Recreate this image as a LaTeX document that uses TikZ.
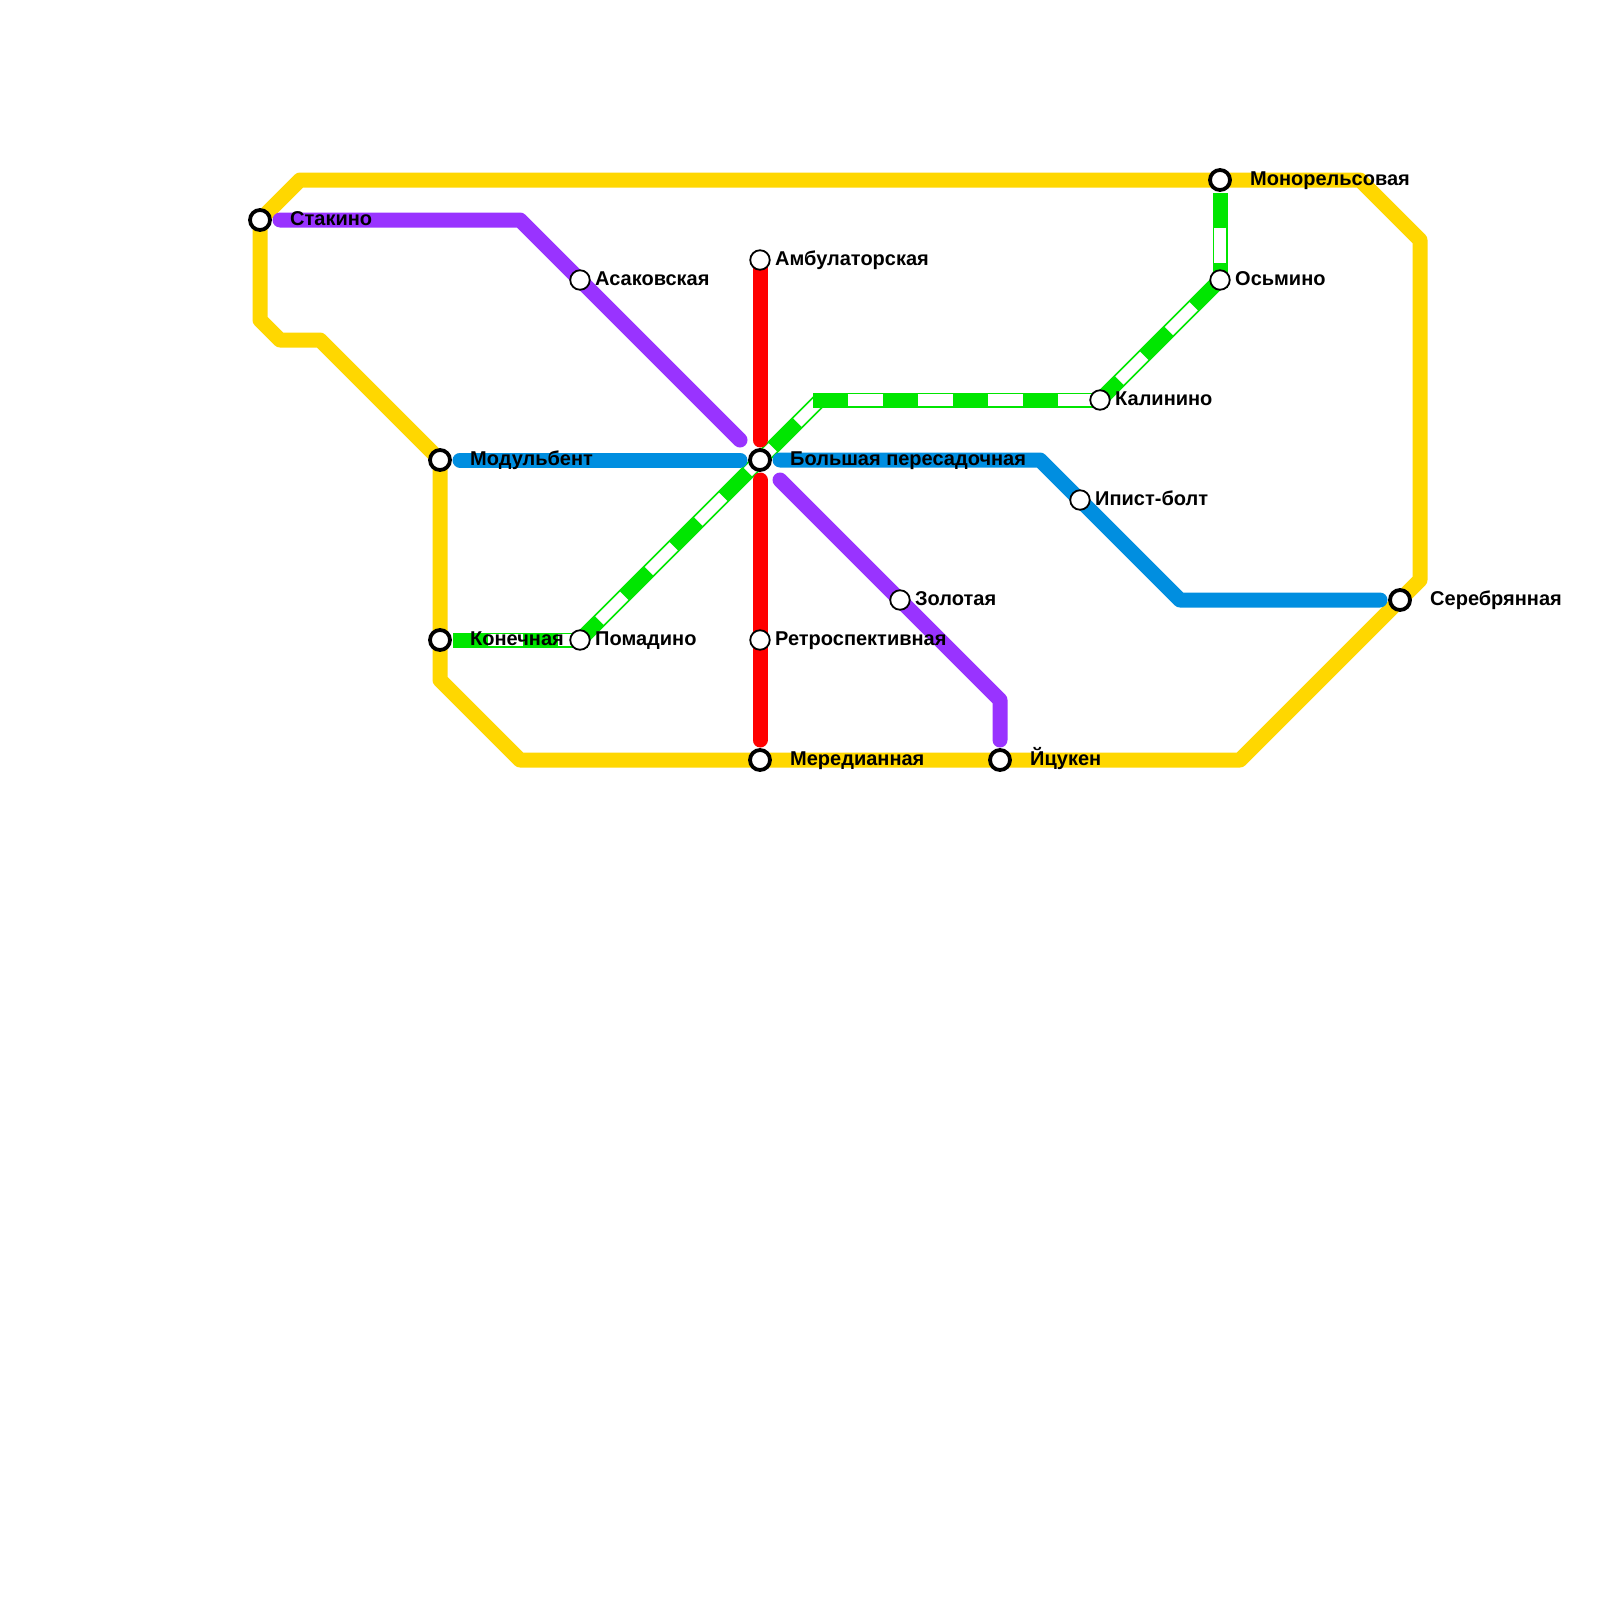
\documentclass[tikz,border=0pt]{standalone}
\usepackage{fontspec}
\setmainfont{Liberation Sans}
\begin{document}
\begin{tikzpicture}[x=1pt,y=-1pt,
  route/.style={line width=15pt,line join=round,line cap=round},
  yellowline/.style={route,draw=lineyellow},
  purpleline/.style={route,draw=linepurple},
  blueline/.style={route,draw=lineblue},
  redline/.style={route,draw=linered},
  greenbase/.style={line width=15pt,line cap=rect,draw=linegreen},
  greendiag/.style={line width=15pt,line cap=butt,draw=linegreen},
  greengap/.style={line width=11.5pt,line cap=butt,draw=white,dash pattern=on 35pt off 35pt,dash phase=42.5pt},
  stn/.style={circle,draw=black,fill=white,line width=1.8pt,minimum size=19.5pt,inner sep=0pt},
  xstn/.style={circle,draw=black,fill=white,line width=3.8pt,minimum size=20pt,inner sep=0pt},
  lab/.style={anchor=west,inner sep=0pt,font=\fontsize{20pt}{22pt}\selectfont\bfseries,text=black,text height=14.5pt,text depth=4pt}]
\definecolor{lineyellow}{HTML}{FFD700}
\definecolor{linepurple}{HTML}{9933FF}
\definecolor{lineblue}{HTML}{008EE0}
\definecolor{linered}{HTML}{FF0000}
\definecolor{linegreen}{HTML}{00E600}
\useasboundingbox (0,0) rectangle (1600,1600);
\fill[white] (0,0) rectangle (1600,1600);

% bends and free ends
\coordinate (y1) at (300,180);
\coordinate (y2) at (1360,180);
\coordinate (y3) at (1420,240);
\coordinate (y4) at (1420,580);
\coordinate (y5) at (1240,760);
\coordinate (y6) at (520,760);
\coordinate (y7) at (440,680);
\coordinate (y8) at (320,340);
\coordinate (y9) at (280,340);
\coordinate (y10) at (260,320);
\coordinate (p1) at (280,220);
\coordinate (p2) at (520,220);
\coordinate (p3) at (740,440);
\coordinate (p4) at (780,480);
\coordinate (p5) at (1000,700);
\coordinate (p6) at (1000,740);
\coordinate (b1) at (460,460);
\coordinate (b2) at (740,460);
\coordinate (b3) at (780,460);
\coordinate (b4) at (1040,460);
\coordinate (b5) at (1180,600);
\coordinate (b6) at (1380,600);
\coordinate (r1) at (760,440);
\coordinate (r2) at (760,480);
\coordinate (r3) at (760,740);
\coordinate (g1) at (460,640);
\coordinate (g2) at (820,400);
\coordinate (g3) at (1220,200);

% station positions
\path (260,220) coordinate (cStakino)
      (440,460) coordinate (cModul)
      (440,640) coordinate (cKon)
      (760,460) coordinate (cBig)
      (760,760) coordinate (cMer)
      (1000,760) coordinate (cYts)
      (1220,180) coordinate (cMono)
      (1400,600) coordinate (cSer)
      (580,280) coordinate (cAsak)
      (760,260) coordinate (cAmb)
      (580,640) coordinate (cPom)
      (760,640) coordinate (cRet)
      (900,600) coordinate (cZol)
      (1080,500) coordinate (cIpi)
      (1100,400) coordinate (cKal)
      (1220,280) coordinate (cOsm);

% yellow
\draw[yellowline] (cStakino) -- (y1) -- (cMono) -- (y2) -- (y3) -- (y4) -- (cSer) -- (y5) -- (cYts) -- (cMer) -- (y6) -- (y7) -- (cKon) -- (cModul) -- (y8) -- (y9) -- (y10) -- cycle;

% green
\draw[greenbase] (g1) -- (cPom);
\draw[greengap] (g1) -- (cPom);
\draw[greendiag] (cPom) -- (g2);
\draw[greengap] (cPom) -- (g2);
\draw[greenbase] (g2) -- (cKal);
\draw[greengap] (g2) -- (cKal);
\draw[greendiag] (cKal) -- (cOsm);
\draw[greengap] (cKal) -- (cOsm);
\draw[greenbase] (g3) -- (cOsm);
\draw[greengap] (g3) -- (cOsm);

% purple, blue, red
\draw[purpleline] (p1) -- (p2) -- (cAsak) -- (p3);
\draw[purpleline] (p4) -- (cZol) -- (p5) -- (p6);
\draw[blueline] (b1) -- (b2);
\draw[blueline] (b3) -- (b4) -- (cIpi) -- (b5) -- (b6);
\draw[redline] (cAmb) -- (r1);
\draw[redline] (r2) -- (cRet) -- (r3);

% station markers
\node[xstn] (Stakino) at (cStakino) {};
\node[xstn] (Modul) at (cModul) {};
\node[xstn] (Kon) at (cKon) {};
\node[xstn] (Big) at (cBig) {};
\node[xstn] (Mer) at (cMer) {};
\node[xstn] (Yts) at (cYts) {};
\node[xstn] (Mono) at (cMono) {};
\node[xstn] (Ser) at (cSer) {};
\node[stn] (Asak) at (cAsak) {};
\node[stn] (Amb) at (cAmb) {};
\node[stn] (Pom) at (cPom) {};
\node[stn] (Ret) at (cRet) {};
\node[stn] (Zol) at (cZol) {};
\node[stn] (Ipi) at (cIpi) {};
\node[stn] (Kal) at (cKal) {};
\node[stn] (Osm) at (cOsm) {};

% labels
\node[lab] (lStakino) at (290,220) {Стакино};
\node[lab] (lAsak) at (595,280) {Асаковская};
\node[lab] (lAmb) at (775,260) {Амбулаторская};
\node[lab] (lModul) at (470,460) {Модульбент};
\node[lab] (lBig) at (790,460) {Большая пересадочная};
\node[lab] (lKon) at (470,640) {Конечная};
\node[lab] (lPom) at (595,640) {Помадино};
\node[lab] (lRet) at (775,640) {Ретроспективная};
\node[lab] (lMer) at (790,760) {Мередианная};
\node[lab] (lYts) at (1030,760) {Йцукен};
\node[lab] (lZol) at (915,600) {Золотая};
\node[lab] (lIpi) at (1095,500) {Ипист-болт};
\node[lab] (lKal) at (1115,400) {Калинино};
\node[lab] (lOsm) at (1235,280) {Осьмино};
\node[lab] (lMono) at (1250,180) {Монорельсовая};
\node[lab] (lSer) at (1430,600) {Серебрянная};
\end{tikzpicture}
\end{document}
